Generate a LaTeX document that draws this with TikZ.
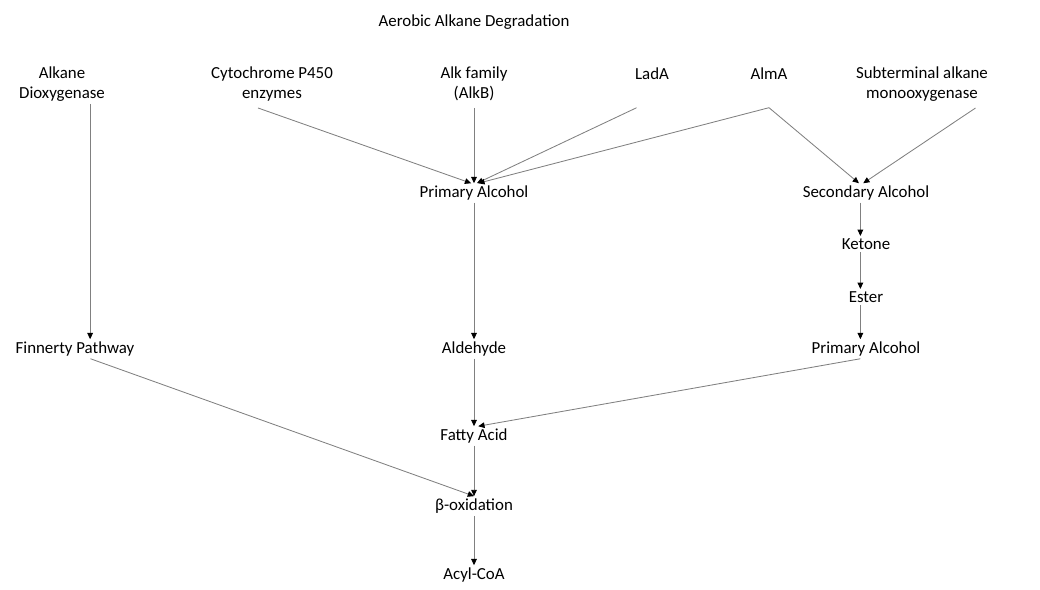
\documentclass[tikz,border=0pt]{standalone}
\usepackage{fontspec}
\setmainfont{Carlito}
\usepackage{tikz}
\usetikzlibrary{arrows.meta}

\begin{document}
\begin{tikzpicture}[x=0.025cm,y=0.025cm,color=gray,line width=0.6pt,every node/.style={align=center,inner sep=1.5pt,text=black,font=\fontsize{12}{14.2}\selectfont},>={Triangle[color=black,length=4.5pt,width=4pt]}]
\useasboundingbox (0,0) rectangle (1040,-590);
\node (title) at (474,-22) {Aerobic Alkane Degradation};
\node (diox) at (62,-84) {Alkane\\Dioxygenase};
\node (cyto) at (272,-84) {Cytochrome P450\\enzymes};
\node (alkb) at (474,-84) {Alk family\\(AlkB)};
\node (lada) at (652,-74) {LadA};
\node (alma) at (769,-74) {AlmA};
\node (subt) at (922,-84) {Subterminal alkane\\monooxygenase};
\node (pa) at (474,-193) {Primary Alcohol};
\node (sa) at (866,-193) {Secondary Alcohol};
\node (ket) at (866,-244) {Ketone};
\node (est) at (866,-297) {Ester};
\node (fin) at (75,-349) {Finnerty Pathway};
\node (ald) at (474,-349) {Aldehyde};
\node (pa2) at (866,-349) {Primary Alcohol};
\node (fa) at (474,-436) {Fatty Acid};
\node (box) at (474,-506) {β-oxidation};
\node (acyl) at (474,-575) {Acyl-CoA};
\draw [->] ([xshift=20pt]diox.south) to ([xshift=20pt]diox.south |- fin.north);
\draw [->] ([shift={(-10pt,-3pt)}]cyto.south) to ([xshift=-2pt]pa.north);
\draw [->] ([yshift=-3pt]alkb.south) to (pa.north);
\draw [->] ([shift={(-11pt,-18pt)}]lada.south) to ([xshift=2pt]pa.north);
\draw [->] ([yshift=-18pt]alma.south) to ([xshift=3pt]pa.north);
\draw [->] ([yshift=-18pt]alma.south) to ([xshift=-5pt]sa.north);
\draw [->] ([shift={(38pt,-3pt)}]subt.south) to ([xshift=-2pt]sa.north);
\draw [->] (pa) to (ald);
\draw [->] ([xshift=-4pt]sa.south) to ([xshift=-4pt]ket.north);
\draw [->] ([xshift=-4pt]ket.south) to ([xshift=-4pt]est.north);
\draw [->] ([xshift=-4pt]est.south) to ([xshift=-4pt]pa2.north);
\draw [->] (ald) to (fa);
\draw [->] ([xshift=-4pt]pa2.south) to ([xshift=3pt]fa.north);
\draw [->] ([xshift=11pt]fin.south) to (box.north);
\draw [->] (fa) to (box);
\draw [->] (box) to (acyl);
\end{tikzpicture}
\end{document}
